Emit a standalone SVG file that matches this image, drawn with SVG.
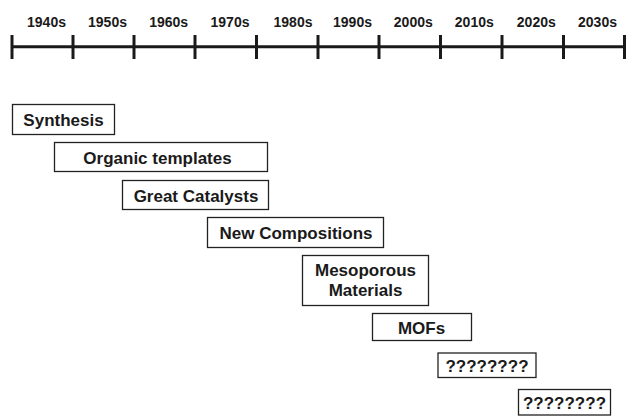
<svg xmlns="http://www.w3.org/2000/svg" width="626" height="417" viewBox="0 0 626 417">
<style>
.yr{font-family:"Liberation Sans",Arial,sans-serif;font-weight:bold;font-size:14px;fill:#1a1a1a;text-anchor:middle}
.bx{fill:#fff;stroke:#222;stroke-width:1.3}
.lb{font-family:"Liberation Sans",Arial,sans-serif;font-weight:bold;font-size:17px;fill:#1a1a1a;text-anchor:middle}
.ax{stroke:#1a1a1a;stroke-width:3;fill:none}
</style>
<rect width="626" height="417" fill="#fff"/>
<g id="timeline">
<line class="ax" x1="12" y1="46.7" x2="625" y2="46.7"/>
<path class="ax" d="M12,35V59 M73,35V59 M134,35V59 M195,35V59 M256.5,35V59 M318,35V59 M379,35V59 M440.5,35V59 M502,35V59 M563.5,35V59 M624.5,35V59"/>
<text class="yr" x="46.5" y="27.3">1940s</text>
<text class="yr" x="107.5" y="27.3">1950s</text>
<text class="yr" x="168.7" y="27.3">1960s</text>
<text class="yr" x="230" y="27.3">1970s</text>
<text class="yr" x="293" y="27.3">1980s</text>
<text class="yr" x="352.5" y="27.3">1990s</text>
<text class="yr" x="413.3" y="27.3">2000s</text>
<text class="yr" x="474.3" y="27.3">2010s</text>
<text class="yr" x="536.3" y="27.3">2020s</text>
<text class="yr" x="597.5" y="27.3">2030s</text>
</g>
<g id="synthesis"><rect class="bx" x="12.5" y="104.5" width="102" height="30"/><text class="lb" x="63.5" y="126">Synthesis</text></g>
<g id="organic"><rect class="bx" x="54.5" y="142.5" width="213" height="29"/><text class="lb" x="157.5" y="163.5">Organic templates</text></g>
<g id="catalysts"><rect class="bx" x="122.5" y="180.5" width="146" height="29"/><text class="lb" x="196" y="201.5">Great Catalysts</text></g>
<g id="compositions"><rect class="bx" x="207.5" y="217.5" width="176" height="30"/><text class="lb" x="296" y="239">New Compositions</text></g>
<g id="mesoporous"><rect class="bx" x="302.5" y="255.5" width="126" height="50"/><text class="lb" x="365.5" y="276">Mesoporous</text><text class="lb" x="365.5" y="296">Materials</text></g>
<g id="mofs"><rect class="bx" x="372.5" y="313.5" width="99" height="27"/><text class="lb" x="421.5" y="334">MOFs</text></g>
<g id="unknown1"><rect class="bx" x="438" y="353" width="98" height="24.5"/><text class="lb" x="487" y="371.5">????????</text></g>
<g id="unknown2"><rect class="bx" x="518.5" y="389.5" width="92" height="25.5"/><text class="lb" x="564.5" y="408.5">????????</text></g>
<g id="connectors"/>
</svg>
